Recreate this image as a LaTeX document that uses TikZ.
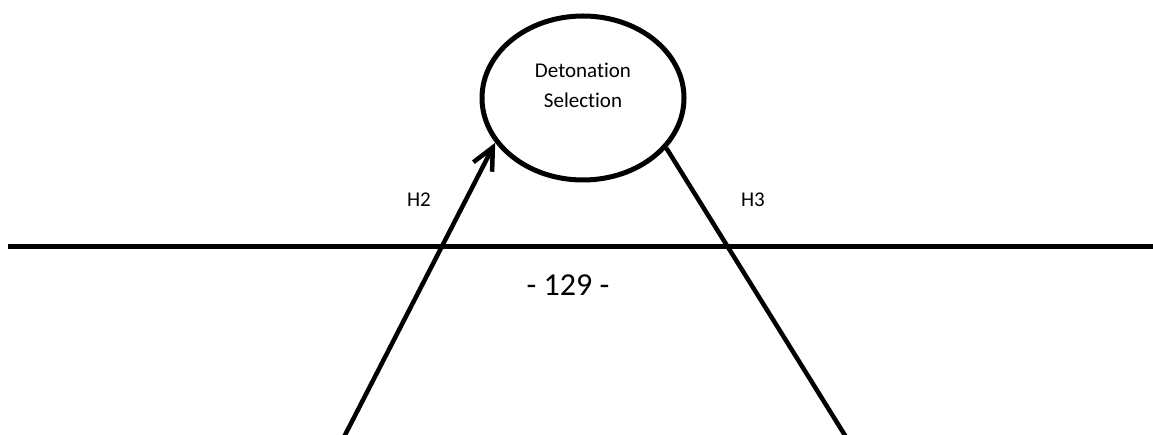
\documentclass[tikz,border=0pt]{standalone}
\usepackage{fontspec}
\setmainfont[Ligatures={NoCommon}]{Carlito}
\usetikzlibrary{arrows.meta, shapes.geometric}

\begin{document}
\begin{tikzpicture}[x=1pt, y=-1pt,
        decision/.style = {draw, ellipse, line width=5pt, minimum width=202pt, minimum height=164pt, inner sep=0pt},
        lbl/.style = {font=\fontsize{21}{30}\selectfont, align=center, inner sep=0pt},
        link/.style = {line width=4.5pt}]
            \useasboundingbox (0,0) rectangle (1153,435);

            \node[decision] (sel) at (583,98) {};
            \node[lbl] (seltext) at (583,85) {Detonation\\Selection};

            \coordinate (axisL) at (8,246.5);
            \coordinate (axisR) at (1153,246.5);
            \draw[line width=5.5pt] (axisL) -- (axisR);

            \coordinate (h2start) at (344,437);
            \coordinate (h3end) at (846,437);

            \path[link, -{Straight Barb[length=22pt, width=21pt]}] (h2start) edge (sel.207);
            \draw[link] (sel.-31) -- (h3end);

            \node[lbl] (h2) at (419,200) {H2};
            \node[lbl] (h3) at (753,200) {H3};
            \node[lbl, font=\fontsize{32}{38}\selectfont] (page) at (568,285) {- 129 -};
        \end{tikzpicture}
\end{document}
